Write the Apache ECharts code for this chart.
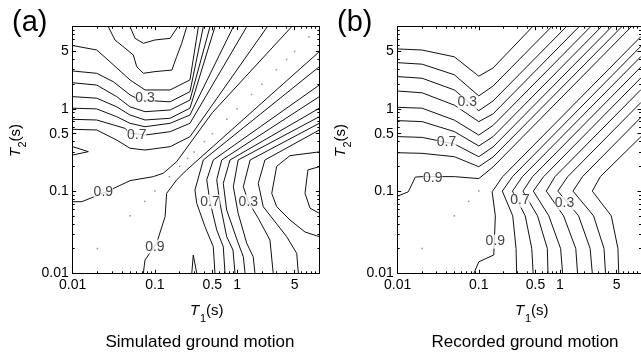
<!DOCTYPE html>
<html>
<head>
<meta charset="utf-8">
<script src="https://cdn.jsdelivr.net/npm/echarts@6/dist/echarts.min.js"></script>
<style>
html,body{margin:0;padding:0;background:#fff;}
#c{width:641px;height:353px;}
</style>
</head>
<body>
<div id="c"></div>
<script>
// Period axes (log scale, seconds)
const tickValues = [0.01, 0.1, 0.5, 1, 5];
const tickLabels = ['0.01', '0.1', '0.5', '1', '5'];
const minorTickValues = [0.02,0.03,0.04,0.05,0.06,0.07,0.08,0.09,0.2,0.3,0.4,0.6,0.7,0.8,0.9,2,3,4,6,7,8,9];

// ---- (a) simulated ground motion: correlation contours, [T1, T2] in s ----
const simLevelsUpper = [0.0, 0.1, 0.2, 0.3, 0.4, 0.5, 0.6, 0.7, 0.8, 0.9];
const simUpper = [
  [[0.0498,10],[0.0574,7.22],[0.0723,6.28],[0.1,6.89],[0.153,7.22],[0.19,10]],
  [[0.0271,10],[0.0327,6.89],[0.0546,4.53],[0.0601,3.26],[0.0723,2.71],[0.1,2.84],[0.161,2.97],[0.184,4.32],[0.212,6.28],[0.244,10]],
  [[0.01,5.9],[0.0196,5.21],[0.0284,3.75],[0.0498,2.25],[0.0758,1.70],[0.153,1.70],[0.267,2.25],[0.338,10]],
  [[0.01,2.89],[0.0196,2.71],[0.0312,2.14],[0.0498,1.48],[0.0659,1.28],[0.153,1.22],[0.267,1.62],[0.388,10]],
  [[0.01,2.08],[0.0196,1.95],[0.0343,1.41],[0.0498,1.06],[0.0758,0.925],[0.153,0.97],[0.267,1.28],[0.468,10]],
  [[0.01,1.41],[0.0196,1.35],[0.0343,1.06],[0.0498,0.843],[0.0758,0.733],[0.153,0.769],[0.267,1.02],[0.538,10]],
  [[0.01,1.02],[0.0196,1.0],[0.0343,0.804],[0.0498,0.668],[0.0758,0.607],[0.153,0.668],[0.267,0.843],[0.9,10]],
  [[0.01,0.747],[0.0196,0.733],[0.0432,0.58],[0.0498,0.505],[0.0758,0.481],[0.153,0.528],[0.267,0.668],[1.31,10]],
  [[0.01,0.565],[0.0196,0.554],[0.0343,0.418],[0.0498,0.332],[0.0758,0.316],[0.153,0.347],[0.267,0.459],[2.33,10]],
  [[0.01,0.0743],[0.0129,0.0743],[0.0259,0.0984],[0.0498,0.134],[0.0957,0.150],[0.1265,0.165],[0.184,0.228],[0.5,0.9],[4.61,10]]
];
const simLevelsLower = [0.9, 0.8, 0.7, 0.6, 0.5, 0.4, 0.3, 0.2, 0.1, 0.0];
const simLower = [
  [[0.0723,0.01],[0.0758,0.0145],[0.105,0.0232],[0.133,0.0489],[0.139,0.094],[0.184,0.137],[0.244,0.181],[10,4.97]],
  [[0.538,0.01],[0.513,0.0211],[0.407,0.0369],[0.323,0.0711],[0.307,0.103],[0.388,0.239],[10,3.26]],
  [[0.713,0.01],[0.679,0.0211],[0.565,0.0337],[0.468,0.0743],[0.427,0.137],[0.513,0.239],[10,1.95]],
  [[0.943,0.01],[0.891,0.0192],[0.747,0.0279],[0.619,0.0711],[0.565,0.137],[0.65,0.239],[10,1.41]],
  [[1.25,0.01],[1.19,0.0159],[1.0,0.0254],[0.747,0.0589],[0.679,0.124],[0.82,0.239],[10,1.02]],
  [[1.65,0.01],[1.57,0.0159],[1.31,0.0232],[1.03,0.0537],[0.9,0.113],[1.03,0.239],[10,0.804]],
  [[2.75,0.01],[2.51,0.0254],[1.81,0.0467],[1.37,0.0743],[1.19,0.113],[1.44,0.239],[10,0.668]],
  [[5.56,0.01],[5.31,0.0175],[4.01,0.0279],[2.08,0.0646],[1.81,0.124],[2.18,0.239],[10,0.554]],
  [[10,0.3],[4.40,0.27],[3.03,0.2],[2.64,0.094],[3.03,0.0646],[4.40,0.0445],[6.70,0.0318],[10,0.0279]],
  [[10,0.198],[7.27,0.181],[6.70,0.094],[7.71,0.062],[10,0.0537]]
];
// small edge lobes
const simLobes = [
  [[0.01,0.347],[0.0155,0.302],[0.01,0.275]],
  [[0.281,0.01],[0.293,0.0167],[0.323,0.01]]
];
// grid periods on the diagonal (rho = 1)
const simDiag = [0.02,0.05,0.075,0.1,0.15,0.2,0.25,0.3,0.4,0.5,0.75,1,1.5,2,3,4,5,7.5];
const simLabelText = ['0.3','0.7','0.9','0.9','0.7','0.3'];
const simLabelT1 = [0.0758, 0.0601, 0.0236, 0.1, 0.468, 1.37];
const simLabelT2 = [1.35, 0.48, 0.0984, 0.0211, 0.0743, 0.0743];

// ---- (b) recorded ground motion ----
const recLevels = [0.1, 0.2, 0.3, 0.4, 0.5, 0.6, 0.7, 0.8, 0.9];
const recUpper = [
  [[0.01,5.36],[0.02,5.2],[0.05,4.3],[0.1,2.5],[0.15,3.15],[0.46,10]],
  [[0.01,3.65],[0.02,3.5],[0.05,2.6],[0.1,1.44],[0.15,1.9],[0.79,10]],
  [[0.01,2.47],[0.02,2.36],[0.05,1.7],[0.1,0.95],[0.15,1.25],[1.2,10]],
  [[0.01,1.65],[0.02,1.57],[0.05,1.11],[0.1,0.70],[0.15,0.87],[1.72,10]],
  [[0.01,1.045],[0.02,1.02],[0.05,0.73],[0.1,0.48],[0.15,0.63],[2.39,10]],
  [[0.01,0.72],[0.02,0.70],[0.05,0.53],[0.1,0.354],[0.15,0.46],[3.25,10]],
  [[0.01,0.46],[0.02,0.45],[0.05,0.374],[0.1,0.262],[0.15,0.345],[4.35,10]],
  [[0.01,0.293],[0.02,0.288],[0.05,0.262],[0.1,0.198],[0.15,0.26],[5.8,10]],
  [[0.01,0.087],[0.0135,0.098],[0.0165,0.148],[0.02,0.15],[0.05,0.15],[0.1,0.142],[0.15,0.197],[7.6,10]]
];
const recLower = [
  [[5.31,0.01],[5.2,0.02],[4.3,0.05],[2.51,0.1],[3.15,0.15],[10,0.46]],
  [[3.65,0.01],[3.5,0.02],[2.6,0.05],[1.45,0.1],[1.9,0.15],[10,0.79]],
  [[2.51,0.01],[2.36,0.02],[1.7,0.05],[0.943,0.1],[1.25,0.15],[10,1.2]],
  [[1.65,0.01],[1.57,0.02],[1.11,0.05],[0.68,0.1],[0.87,0.15],[10,1.72]],
  [[1.08,0.01],[1.02,0.02],[0.73,0.05],[0.47,0.1],[0.63,0.15],[10,2.39]],
  [[0.713,0.01],[0.70,0.02],[0.53,0.05],[0.35,0.1],[0.46,0.15],[10,3.25]],
  [[0.468,0.01],[0.45,0.02],[0.374,0.05],[0.26,0.1],[0.345,0.15],[10,4.35]],
  [[0.293,0.01],[0.288,0.02],[0.262,0.05],[0.195,0.1],[0.26,0.15],[10,5.8]],
  [[0.087,0.01],[0.1,0.0138],[0.153,0.0167],[0.16,0.05],[0.146,0.098],[0.197,0.15],[10,7.6]]
];
const recDiag = [0.02, 0.05, 0.075, 0.1];
const recLabelText = ['0.3','0.7','0.9','0.7','0.3','0.9'];
const recLabelT1 = [0.072, 0.04, 0.027, 0.322, 1.14, 0.16];
const recLabelT2 = [1.2, 0.39, 0.145, 0.0766, 0.0711, 0.0243];

// ---------------------------------------------------------------
const FONT = '"Liberation Sans", Arial, Helvetica, sans-serif';
const lg = Math.log10;
const majorLog = tickValues.map(lg).concat([1]);
const minorLog = minorTickValues.map(lg);
const plotLeft = [72.7, 397.7];
const plotTop = 26.7, plotSize = 246.6;

function fmtTick(v) {
  let best = 0, d = 1e9;
  tickValues.forEach((t, i) => { const e = Math.abs(lg(t) - v); if (e < d) { d = e; best = i; } });
  return tickLabels[best];
}

const grid = [], xAxis = [], yAxis = [];
plotLeft.forEach((left, p) => {
  // first grid of a panel: box, major ticks, labels; second: minor ticks
  [0, 1].forEach(k => {
    const gi = grid.length;
    grid.push({ left: left, top: plotTop, width: plotSize, height: plotSize });
    const major = k === 0;
    ['bottom', 'top'].forEach(pos => {
      xAxis.push({
        type: 'value', gridIndex: gi, position: pos, min: -2, max: 1,
        axisLine: { show: major, onZero: false, lineStyle: { color: '#000', width: 1 } },
        axisTick: { show: true, inside: true, length: major ? 3.5 : 2,
          customValues: major ? majorLog : minorLog, lineStyle: { color: '#000', width: 1 } },
        axisLabel: { show: major && pos === 'bottom', customValues: tickValues.map(lg),
          formatter: fmtTick, margin: 5, fontSize: 14, color: '#000', fontFamily: FONT },
        splitLine: { show: false }
      });
    });
    ['left', 'right'].forEach(pos => {
      yAxis.push({
        type: 'value', gridIndex: gi, position: pos, min: -2, max: 1,
        axisLine: { show: major, onZero: false, lineStyle: { color: '#000', width: 1 } },
        axisTick: { show: true, inside: true, length: major ? 3.5 : 2,
          customValues: major ? majorLog : minorLog, lineStyle: { color: '#000', width: 1 } },
        axisLabel: { show: major && pos === 'left', customValues: tickValues.map(lg),
          formatter: fmtTick, margin: 4, fontSize: 14, color: '#000', fontFamily: FONT },
        splitLine: { show: false }
      });
    });
  });
});

const series = [];
function addLines(lines, p) {
  lines.forEach(pts => {
    series.push({
      type: 'line', xAxisIndex: 4 * p, yAxisIndex: 4 * p, silent: true, clip: true,
      showSymbol: false, symbol: 'none', animation: false, z: 2,
      lineStyle: { color: '#111', width: 1 },
      data: pts.map(q => [lg(q[0]), lg(q[1])])
    });
  });
}
function addDiag(periods, p) {
  series.push({
    type: 'scatter', xAxisIndex: 4 * p, yAxisIndex: 4 * p, silent: true, z: 1,
    symbol: 'rect', symbolSize: 1.5, animation: false,
    itemStyle: { color: '#777' },
    data: periods.map(t => [lg(t), lg(t)])
  });
}
function addLabels(text, t1, t2, p) {
  series.push({
    type: 'scatter', xAxisIndex: 4 * p, yAxisIndex: 4 * p, silent: true, z: 5,
    symbolSize: 0, animation: false,
    label: { show: true, position: 'inside', formatter: '{b}', fontSize: 14, color: '#111',
      fontFamily: FONT, backgroundColor: '#fff', padding: [0, 0] },
    data: text.map((t, i) => ({ name: t, value: [lg(t1[i]), lg(t2[i])] }))
  });
}
addLines(simUpper, 0); addLines(simLower, 0); addLines(simLobes, 0);
addDiag(simDiag, 0);
addLabels(simLabelText, simLabelT1, simLabelT2, 0);
addLines(recUpper, 1); addLines(recLower, 1);
addDiag(recDiag, 1);
addLabels(recLabelText, recLabelT1, recLabelT2, 1);

function txt(x, y, s, size, opts) {
  return Object.assign({ type: 'text', x: x, y: y, silent: true,
    style: Object.assign({ text: s, font: size + 'px ' + FONT, fill: '#000',
      textAlign: 'left', textVerticalAlign: 'bottom', align: 'left', verticalAlign: 'bottom' }, opts || {}) });
}
function itxt(x, y, s, size) {
  return txt(x, y, s, size, { font: 'italic ' + size + 'px ' + FONT });
}
const graphic = [];
const titles = ['Simulated ground motion', 'Recorded ground motion'];
const tags = ['(a)', '(b)'];
[0, 325].forEach((dx, p) => {
  graphic.push(txt(12 + dx, 37, tags[p], 29));
  graphic.push(itxt(190 + dx, 318.5, 'T', 15));
  graphic.push(txt(200 + dx, 324, '1', 11));
  graphic.push(txt(206 + dx, 318.5, '(s)', 15));
  graphic.push(txt(200 + dx, 351, titles[p], 17, { textAlign: 'center', align: 'center' }));
  graphic.push({ type: 'group', x: 23 + dx, y: 157, rotation: Math.PI / 2, children: [
    itxt(0, 0, 'T', 15),
    txt(9.5, 5.5, '2', 11),
    txt(15.5, 0, '(s)', 15)
  ]});
});

const chart = echarts.init(document.getElementById('c'), null, { renderer: 'canvas' });
chart.setOption({ animation: false, backgroundColor: '#fff', grid, xAxis, yAxis, series, graphic });
</script>
</body>
</html>
